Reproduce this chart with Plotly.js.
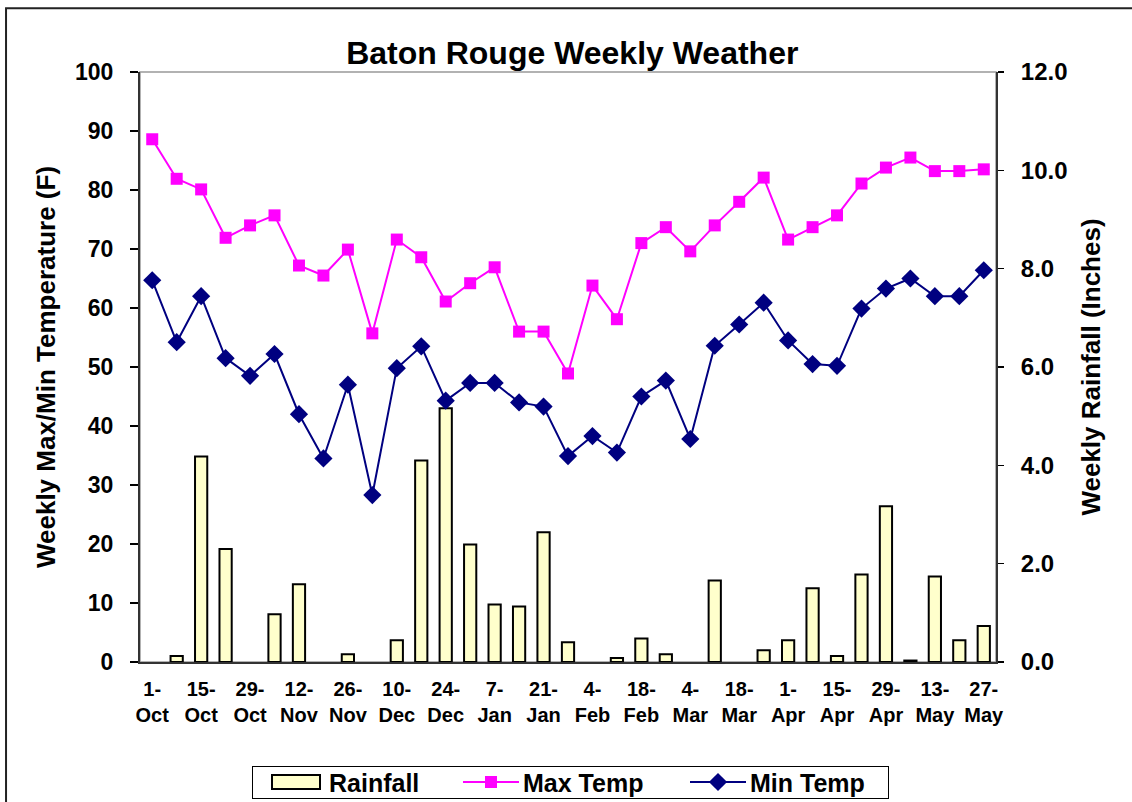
<!DOCTYPE html>
<html>
<head>
<meta charset="utf-8">
<script src="https://cdn.plot.ly/plotly-3.0.1.min.js"></script>
<style>
  html, body { margin: 0; padding: 0; background: #ffffff; }
  #chart { width: 1132px; height: 802px; }
</style>
</head>
<body>
<div id="chart"></div>
<script>
// ---- data ----
const weeks = ["1-Oct","8-Oct","15-Oct","22-Oct","29-Oct","5-Nov","12-Nov","19-Nov","26-Nov",
  "3-Dec","10-Dec","17-Dec","24-Dec","31-Dec","7-Jan","14-Jan","21-Jan","28-Jan",
  "4-Feb","11-Feb","18-Feb","25-Feb","4-Mar","11-Mar","18-Mar","25-Mar",
  "1-Apr","8-Apr","15-Apr","22-Apr","29-Apr","6-May","13-May","20-May","27-May"];

const rainfall = [0, 0.12, 4.18, 2.30, 0, 0.97, 1.58, 0, 0.16,
  0, 0.44, 4.10, 5.16, 2.39, 1.17, 1.13, 2.64, 0.40,
  0, 0.08, 0.48, 0.16, 0, 1.66, 0, 0.24,
  0.44, 1.50, 0.12, 1.78, 3.17, 0.03, 1.74, 0.44, 0.73];

const maxTemp = [88.6, 81.9, 80.1, 71.9, 74.0, 75.7, 67.2, 65.5, 69.9,
  55.7, 71.6, 68.6, 61.1, 64.2, 66.9, 56.0, 56.0, 48.9,
  63.8, 58.1, 71.0, 73.7, 69.6, 74.0, 78.0, 82.1,
  71.6, 73.7, 75.7, 81.1, 83.8, 85.5, 83.2, 83.2, 83.5];

const minTemp = [64.7, 54.2, 62.0, 51.5, 48.5, 52.2, 42.0, 34.5, 47.0,
  28.3, 49.8, 53.5, 44.3, 47.3, 47.3, 44.0, 43.3, 34.9,
  38.3, 35.5, 45.0, 47.7, 37.8, 53.6, 57.2, 60.9,
  54.5, 50.5, 50.2, 59.9, 63.3, 65.0, 62.0, 62.0, 66.4];

// labelled weeks (every second week)
const tickWeeks = weeks.filter((w, i) => i % 2 === 0);
const tickText = tickWeeks.map(w => w.replace("-", "-<br>"));
// category boundaries for tick marks
const boundaries = [];
for (let i = 0; i <= weeks.length; i++) boundaries.push(i - 0.5);

const FONT = "Liberation Sans, Arial, sans-serif";
const bold = (size) => ({ family: FONT, size: size, color: "#000000", weight: 700 });

const traces = [
  {
    type: "bar", name: "Rainfall", x: weeks, y: rainfall,
    xaxis: "x", yaxis: "y",
    marker: { color: "#FFFFCC", line: { color: "#000000", width: rainfall.map(v => v > 0 ? 2 : 0) } },
    hoverinfo: "x+y"
  },
  {
    type: "scatter", mode: "lines+markers", name: "Max Temp", x: weeks, y: maxTemp,
    xaxis: "x", yaxis: "y2",
    line: { color: "#FF00FF", width: 2 },
    marker: { symbol: "square", size: 12, color: "#FF00FF" }
  },
  {
    type: "scatter", mode: "lines+markers", name: "Min Temp", x: weeks, y: minTemp,
    xaxis: "x", yaxis: "y2",
    line: { color: "#000080", width: 2 },
    marker: { symbol: "diamond", size: 14, color: "#000080" }
  }
];

const layout = {
  width: 1132, height: 802,
  paper_bgcolor: "#ffffff", plot_bgcolor: "#ffffff",
  margin: { l: 140, r: 136, t: 72, b: 140, pad: 0 },
  bargap: 0.5,
  showlegend: true,
  title: {
    text: "<b>Baton Rouge Weekly Weather</b>",
    font: { family: FONT, size: 32, color: "#000000" },
    x: 0.505, xanchor: "center", xref: "paper",
    y: 0.934, yanchor: "middle"
  },
  xaxis: {
    type: "category",
    range: [-0.5, weeks.length - 0.5],
    tickmode: "array", tickvals: tickWeeks, ticktext: tickText,
    ticks: "", showgrid: false, zeroline: false,
    showline: true, linecolor: "#333333", linewidth: 2,
    tickfont: bold(20), ticklabelstandoff: 8,
    fixedrange: true
  },
  xaxis2: {
    type: "linear", overlaying: "x", anchor: "y", side: "bottom",
    range: [-0.5, weeks.length - 0.5],
    tickmode: "array", tickvals: boundaries, showticklabels: false,
    ticks: "outside", ticklen: 7, tickwidth: 1.5, tickcolor: "#000000",
    showgrid: false, zeroline: false, showline: false
  },
  yaxis: {
    side: "right", range: [0, 12], tickmode: "linear", tick0: 0, dtick: 2,
    tickformat: ".1f",
    ticks: "outside", ticklen: 6, tickwidth: 1.5, tickcolor: "#000000",
    showgrid: false, zeroline: false,
    showline: true, linecolor: "#333333", linewidth: 2,
    tickfont: bold(24), ticklabelstandoff: 12,
    title: { text: "<b>Weekly Rainfall (Inches)</b>", font: { family: FONT, size: 26, color: "#000000" }, standoff: 15 },
    fixedrange: true
  },
  yaxis2: {
    overlaying: "y", side: "left", range: [0, 100], tickmode: "linear", tick0: 0, dtick: 10,
    ticks: "outside", ticklen: 8, tickwidth: 1.5, tickcolor: "#000000",
    showgrid: false, zeroline: false,
    showline: true, linecolor: "#333333", linewidth: 2,
    tickfont: bold(23), ticklabelstandoff: 12,
    title: { text: "<b>Weekly Max/Min Temperature (F)</b>", font: { family: FONT, size: 26, color: "#000000" }, standoff: 12 },
    fixedrange: true
  },
  legend: {
    orientation: "h", xref: "paper", x: 0.5, xanchor: "center",
    yref: "container", y: 0.0536, yanchor: "top",
    bordercolor: "#000000", borderwidth: 1, bgcolor: "#ffffff",
    font: { family: FONT, size: 25, color: "#000000", weight: 700 },
    traceorder: "normal", entrywidth: 166, entrywidthmode: "pixels"
  },
  shapes: [
    { type: "rect", xref: "paper", yref: "paper", x0: 0, x1: 1, y0: 0, y1: 1,
      line: { color: "#999999", width: 1.5 }, layer: "below" },
    { type: "rect", xref: "paper", yref: "paper", x0: -0.1565, x1: 1.2, y0: -0.3, y1: 1.108,
      line: { color: "#222222", width: 2 }, layer: "below" }
  ]
};

// left edge (page px) of each legend key, as laid out in the original
const legendKeyLeft = { "Rainfall": 272, "Max Temp": 463, "Min Temp": 690 };
// legend frame (page px) of the original
const legendBox = { left: 252, right: 888, top: 766, bottom: 798 };

function styleLegendKeys() {
  const legend = document.querySelector("#chart .legend");
  if (!legend) return;
  const host = document.getElementById("chart").getBoundingClientRect();
  // tighter legend box, like the Excel original
  const bg = legend.querySelector("rect.bg");
  if (bg) {
    const r = bg.getBoundingClientRect();
    const curTop = r.top - host.top, curLeft = r.left - host.left;
    const y0 = parseFloat(bg.getAttribute("y") || 0);
    const x0 = parseFloat(bg.getAttribute("x") || 0);
    bg.setAttribute("y", y0 + (legendBox.top - curTop));
    bg.setAttribute("height", legendBox.bottom - legendBox.top);
    bg.setAttribute("x", x0 + (legendBox.left - curLeft));
    bg.setAttribute("width", legendBox.right - legendBox.left);
  }
  legend.querySelectorAll(".traces").forEach(function (t) {
    const txt = t.querySelector("text.legendtext");
    const name = txt ? txt.textContent : "";
    let key = null;
    if (name === "Rainfall") {
      t.querySelectorAll(".legendpoints path").forEach(function (p) {
        p.setAttribute("d", "M2,7H50V-7H2Z");
        p.setAttribute("transform", "translate(0,0)");
        p.style.stroke = "#000000";
        p.style.strokeWidth = "2px";
        p.style.fill = "#FFFFCC";
        key = p;
      });
      if (txt) txt.setAttribute("x", 59);
    } else {
      t.querySelectorAll(".legendlines path").forEach(function (p) {
        p.setAttribute("d", "M2,0h56");
        key = p;
      });
      t.querySelectorAll(".legendpoints path.scatterpts").forEach(function (p) {
        p.setAttribute("transform", "translate(30,0)");
      });
      if (txt) txt.setAttribute("x", 62);
    }
    if (key && legendKeyLeft[name] !== undefined) {
      const kr = key.getBoundingClientRect();
      const dx = legendKeyLeft[name] - (kr.left - host.left);
      const dy = (legendBox.top + legendBox.bottom) / 2 - ((kr.top + kr.bottom) / 2 - host.top);
      const tr = t.getAttribute("transform") || "";
      const m = tr.match(/translate\(\s*([-\d.e]+)[ ,]+([-\d.e]+)\s*\)/);
      const x0 = m ? parseFloat(m[1]) : 0, y0 = m ? parseFloat(m[2]) : 0;
      t.setAttribute("transform", "translate(" + (x0 + dx) + "," + (y0 + dy) + ")");
    }
  });
}

Plotly.newPlot("chart", traces, layout, { displayModeBar: false, staticPlot: true })
  .then(styleLegendKeys);
</script>
</body>
</html>
